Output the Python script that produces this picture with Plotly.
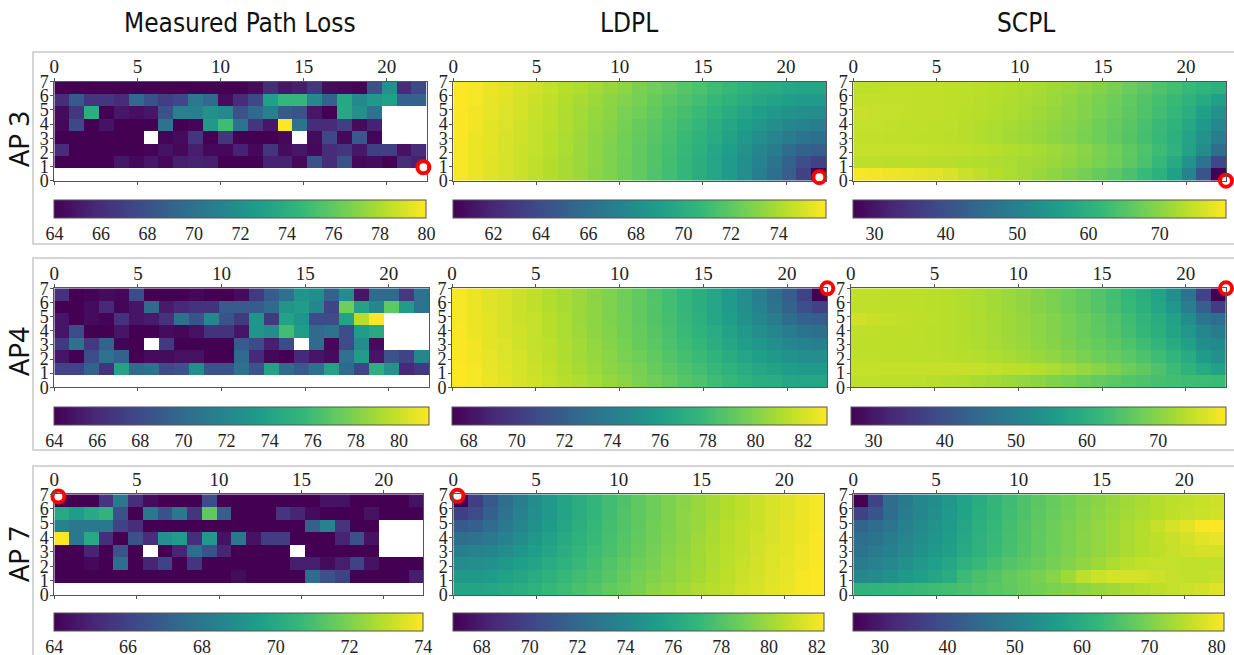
import plotly.graph_objects as go

N = None
W, H = 1234, 655

# ---------------------------------------------------------------------------
# Path-loss grids (dB), 8 rows x 25 columns, rows listed from y=0 (bottom) up
# ---------------------------------------------------------------------------
meas_ap3 = [
    [N] * 25,
    [64, 64, 64, 64, 65, 64.3, 65, 64.3, 65.3, 65.5, 65.3, 64, 64, 64, 65.5, 65.5, 64.3, 68, 66, 68, 64.3, 64.5, 64, 66, 65.5],
    [66, 64, 64, 64, 64, 64, 64.2, 64.8, 64.3, 65.3, 64.3, 64.3, 65.5, 64.3, 66.5, 64.5, 65, 64.3, 66, 66.5, 65, 67, 67, 64.8, 66],
    [64, 64, 64, 64, 64, 64, N, 64.2, 64.5, 66.5, 64, 66.5, 64, 64, 64, 64.3, N, 64.5, 67.5, 64.3, 68.5, 64.2, N, N, N],
    [64.3, 67.5, 64, 64.8, 64, 64, 64, 70, 64, 64.2, 72.5, 75, 70, 66.5, 65, 80, 70, 66, 66, 67, 64.5, 65.5, N, N, N],
    [64.5, 66.5, 74, 64, 65, 64.7, 65, 68, 71, 71, 72, 71.5, 68, 69.5, 71, 68.5, 68, 65, 64, 73.5, 72, 70, N, N, N],
    [66, 68.5, 66.5, 66.5, 66, 69.5, 68, 67, 67.5, 70.5, 69.5, 64.5, 66, 67.5, 73, 74.5, 74.5, 71.5, 69, 73.5, 71.5, 72.5, 73, 69, 69],
    [64, 64, 64, 64, 64, 64, 64, 64, 64, 64, 64, 64, 64, 64.5, 66, 65, 65.3, 66.5, 64.5, 64.3, 64.2, 68, 72, 66, 67.5],
]

ldpl_ap3 = [
    [75.8, 75.6, 75.3, 75.1, 74.8, 74.5, 74.2, 73.9, 73.6, 73.2, 72.9, 72.5, 72.1, 71.6, 71.2, 70.6, 70.1, 69.5, 68.8, 68.0, 67.1, 66.1, 64.9, 63.4, 60.3],
    [75.8, 75.6, 75.3, 75.1, 74.8, 74.5, 74.2, 73.9, 73.6, 73.3, 72.9, 72.5, 72.1, 71.7, 71.2, 70.7, 70.1, 69.5, 68.8, 68.1, 67.3, 66.3, 65.2, 64.1, 63.4],
    [75.8, 75.6, 75.4, 75.1, 74.8, 74.6, 74.3, 74.0, 73.6, 73.3, 72.9, 72.6, 72.1, 71.7, 71.3, 70.8, 70.2, 69.6, 69.0, 68.3, 67.6, 66.8, 65.9, 65.2, 64.9],
    [75.9, 75.6, 75.4, 75.1, 74.9, 74.6, 74.3, 74.0, 73.7, 73.3, 73.0, 72.6, 72.2, 71.8, 71.4, 70.9, 70.4, 69.9, 69.3, 68.7, 68.0, 67.4, 66.8, 66.3, 66.1],
    [75.9, 75.7, 75.4, 75.2, 74.9, 74.6, 74.4, 74.1, 73.8, 73.4, 73.1, 72.7, 72.3, 71.9, 71.5, 71.1, 70.6, 70.1, 69.6, 69.1, 68.5, 68.0, 67.6, 67.3, 67.1],
    [75.9, 75.7, 75.5, 75.2, 75.0, 74.7, 74.4, 74.1, 73.8, 73.5, 73.2, 72.8, 72.5, 72.1, 71.7, 71.3, 70.9, 70.4, 70.0, 69.5, 69.1, 68.7, 68.3, 68.1, 68.0],
    [76.0, 75.8, 75.5, 75.3, 75.0, 74.8, 74.5, 74.2, 73.9, 73.6, 73.3, 73.0, 72.7, 72.3, 71.9, 71.5, 71.2, 70.8, 70.4, 70.0, 69.6, 69.3, 69.0, 68.8, 68.8],
    [76.0, 75.8, 75.6, 75.4, 75.1, 74.9, 74.6, 74.3, 74.1, 73.8, 73.5, 73.2, 72.8, 72.5, 72.2, 71.8, 71.5, 71.1, 70.8, 70.4, 70.1, 69.9, 69.6, 69.5, 69.5],
]

scpl_ap3 = [
    [78.8, 78.6, 78.2, 77.8, 77.4, 77.0, 76.2, 75.2, 74.3, 73.5, 72.8, 72.0, 71.2, 70.3, 69.3, 68.2, 67.0, 65.7, 64.2, 62.3, 60.0, 56.5, 50.5, 40.5, 27.0],
    [74.0, 74.0, 73.9, 73.9, 73.8, 73.7, 73.6, 73.4, 73.2, 72.9, 72.6, 72.2, 71.8, 71.2, 70.5, 69.6, 68.6, 67.4, 66.0, 64.2, 61.8, 58.5, 53.5, 47.0, 38.5],
    [74.8, 74.8, 74.8, 74.7, 74.6, 74.5, 74.4, 74.3, 74.0, 73.6, 73.2, 72.8, 72.3, 71.6, 70.8, 69.9, 68.8, 67.6, 66.2, 64.6, 62.7, 60.5, 57.0, 52.5, 46.0],
    [74.5, 74.5, 74.4, 74.3, 74.2, 74.1, 73.9, 73.6, 73.1, 72.6, 72.1, 71.6, 71.0, 70.3, 69.5, 68.6, 67.6, 66.5, 65.2, 63.7, 62.0, 60.0, 57.3, 53.5, 49.5],
    [74.6, 74.6, 74.5, 74.4, 74.3, 74.2, 74.0, 73.7, 73.3, 72.8, 72.3, 71.8, 71.2, 70.5, 69.7, 68.8, 67.8, 66.7, 65.5, 64.0, 62.4, 60.6, 58.3, 55.0, 51.5],
    [75.0, 74.8, 74.6, 74.5, 74.4, 74.3, 74.1, 73.9, 73.6, 73.2, 72.8, 72.3, 71.7, 71.0, 70.2, 69.3, 68.3, 67.2, 66.0, 64.6, 63.1, 61.5, 59.5, 56.5, 53.5],
    [74.5, 74.5, 74.5, 74.5, 74.4, 74.3, 74.2, 74.0, 73.7, 73.4, 73.0, 72.5, 72.0, 71.3, 70.5, 69.6, 68.6, 67.5, 66.3, 65.0, 63.6, 62.2, 60.8, 58.5, 56.5],
    [74.0, 74.2, 74.3, 74.3, 74.3, 74.3, 74.2, 74.0, 73.8, 73.5, 73.2, 72.8, 72.3, 71.7, 71.0, 70.2, 69.3, 68.3, 67.2, 66.0, 64.7, 63.4, 62.2, 61.0, 60.0],
]

meas_ap4 = [
    [N] * 25,
    [67.5, 67.5, 69.5, 66.5, 74, 70, 70.5, 68, 68.5, 72.5, 68.5, 68.5, 70.5, 68.5, 74, 70, 69, 70.5, 74, 70, 67.5, 75, 73, 66, 67],
    [65, 64, 68, 70.5, 69.5, 64, 64.5, 64.5, 64.8, 64.8, 64, 64, 70, 66, 64.3, 64, 66, 65, 64.5, 70.5, 73.5, 65, 68.5, 67.5, 72],
    [67, 70.5, 67, 69.5, 64.2, 64, N, 67, 64, 64, 64, 64, 69, 68, 65.5, 68, N, 70, 64.3, 68, 72.5, 64.5, N, N, N],
    [65, 68, 64, 64, 65, 64, 64, 64.5, 64.3, 64.8, 66.5, 66.5, 65, 73, 72.5, 76, 73.5, 70, 70.5, 68, 73.5, 74.5, N, N, N],
    [65, 64, 64.5, 64.2, 66.5, 65, 65.3, 66.5, 70.5, 68.5, 72, 68.5, 67, 73, 67, 74, 73, 68, 68, 74, 79.5, 81.4, N, N, N],
    [64, 64, 64.5, 66, 64.2, 65, 70, 65.3, 66, 66.5, 66.5, 69, 69, 69, 70, 73, 73.5, 72, 67.5, 77.5, 74, 72, 77, 73.5, 70.5],
    [66.5, 64, 64.2, 64.5, 64.3, 68, 64, 64, 64, 64.3, 64, 64, 64.5, 67, 69, 70.5, 73, 72.5, 69.5, 72.5, 65, 70, 70, 67, 70.5],
]

ldpl_ap4 = [
    [83.0, 82.8, 82.6, 82.4, 82.1, 81.9, 81.6, 81.3, 81.1, 80.8, 80.5, 80.2, 79.8, 79.5, 79.2, 78.8, 78.5, 78.1, 77.8, 77.4, 77.1, 76.9, 76.6, 76.5, 76.5],
    [83.0, 82.8, 82.5, 82.3, 82.0, 81.8, 81.5, 81.2, 80.9, 80.6, 80.3, 80.0, 79.7, 79.3, 78.9, 78.5, 78.2, 77.8, 77.4, 77.0, 76.6, 76.3, 76.0, 75.8, 75.8],
    [82.9, 82.7, 82.5, 82.2, 82.0, 81.7, 81.4, 81.1, 80.8, 80.5, 80.2, 79.8, 79.5, 79.1, 78.7, 78.3, 77.9, 77.4, 77.0, 76.5, 76.1, 75.7, 75.3, 75.1, 75.0],
    [82.9, 82.7, 82.4, 82.2, 81.9, 81.6, 81.4, 81.1, 80.8, 80.4, 80.1, 79.7, 79.3, 78.9, 78.5, 78.1, 77.6, 77.1, 76.6, 76.1, 75.5, 75.0, 74.6, 74.3, 74.1],
    [82.9, 82.6, 82.4, 82.1, 81.9, 81.6, 81.3, 81.0, 80.7, 80.3, 80.0, 79.6, 79.2, 78.8, 78.4, 77.9, 77.4, 76.9, 76.3, 75.7, 75.0, 74.4, 73.8, 73.3, 73.1],
    [82.8, 82.6, 82.4, 82.1, 81.8, 81.6, 81.3, 81.0, 80.6, 80.3, 79.9, 79.6, 79.1, 78.7, 78.3, 77.8, 77.2, 76.6, 76.0, 75.3, 74.6, 73.8, 72.9, 72.2, 71.9],
    [82.8, 82.6, 82.3, 82.1, 81.8, 81.5, 81.2, 80.9, 80.6, 80.3, 79.9, 79.5, 79.1, 78.7, 78.2, 77.7, 77.1, 76.5, 75.8, 75.1, 74.3, 73.3, 72.2, 71.1, 70.4],
    [82.8, 82.6, 82.3, 82.1, 81.8, 81.5, 81.2, 80.9, 80.6, 80.2, 79.9, 79.5, 79.1, 78.6, 78.2, 77.6, 77.1, 76.5, 75.8, 75.0, 74.1, 73.1, 71.9, 70.4, 67.3],
]

scpl_ap4 = [
    [74.5, 74.5, 74.4, 74.3, 74.1, 73.9, 73.6, 73.2, 72.7, 72.1, 71.5, 70.8, 70.0, 69.2, 68.4, 67.6, 66.8, 66.0, 65.2, 64.5, 63.9, 63.4, 63.0, 62.8, 62.6],
    [74.8, 74.8, 74.8, 74.8, 74.9, 75.0, 75.0, 75.0, 74.9, 74.7, 74.4, 74.0, 73.5, 72.8, 72.0, 71.0, 70.0, 68.9, 67.6, 66.2, 64.6, 62.8, 60.8, 58.6, 56.8],
    [74.5, 74.5, 74.4, 74.3, 74.2, 74.1, 74.0, 73.8, 73.5, 73.1, 72.6, 72.0, 71.3, 70.6, 69.8, 68.9, 67.9, 66.9, 65.7, 64.4, 63.0, 61.3, 59.0, 55.5, 53.2],
    [74.4, 74.4, 74.3, 74.2, 74.1, 74.0, 73.8, 73.5, 73.1, 72.6, 72.0, 71.3, 70.6, 69.8, 68.9, 67.9, 66.9, 65.8, 64.5, 63.0, 61.2, 59.0, 56.5, 52.5, 51.6],
    [74.5, 74.5, 74.4, 74.3, 74.2, 74.0, 73.8, 73.4, 73.0, 72.4, 71.8, 71.1, 70.3, 69.4, 68.4, 67.4, 66.3, 65.0, 63.5, 61.8, 59.8, 57.5, 54.5, 51.0, 48.9],
    [75.8, 75.2, 74.8, 74.5, 74.3, 74.1, 73.8, 73.4, 73.0, 72.4, 71.8, 71.1, 70.3, 69.4, 68.4, 67.3, 66.1, 64.7, 63.1, 61.3, 59.2, 56.8, 52.5, 47.5, 45.8],
    [74.5, 74.5, 74.4, 74.3, 74.2, 74.0, 73.7, 73.3, 72.8, 72.2, 71.5, 70.7, 69.8, 68.8, 67.8, 66.6, 65.3, 63.8, 62.1, 60.2, 57.8, 54.5, 49.0, 42.6, 36.3],
    [74.5, 74.5, 74.4, 74.3, 74.2, 74.0, 73.7, 73.3, 72.8, 72.2, 71.5, 70.7, 69.8, 68.8, 67.7, 66.4, 65.0, 63.4, 61.6, 59.5, 57.0, 53.0, 47.0, 37.3, 26.8],
]

meas_ap7 = [
    [N] * 25,
    [64, 64, 64, 64, 64, 64, 64, 64, 64, 64, 64, 64, 64.3, 64, 64, 64, 64, 67.5, 66.5, 66, 64, 64, 64, 64, 64.8],
    [64, 64, 64.2, 64, 67.5, 64, 65, 66, 64, 65.5, 64, 64, 64, 64, 64, 64, 64.8, 64.8, 64.3, 64.8, 66, 64.5, 64, 64, 64],
    [64, 64, 65, 64, 66.5, 64, N, 64, 65, 67.5, 66.5, 65, 64, 64, 64, 64, N, 64, 64, 64, 64, 64, N, N, N],
    [74, 68, 70, 65.3, 64, 66.5, 65.3, 69, 69.5, 65.3, 69.3, 64.5, 68, 64.5, 65.8, 65.8, 64, 64, 64, 65, 66.5, 64.5, N, N, N],
    [68.5, 68, 68, 68, 66, 65.3, 64, 64, 64, 64, 64, 64, 64, 64, 64, 64, 64, 67, 68.5, 65.5, 64, 64, N, N, N],
    [70, 69.5, 70, 70.5, 66.5, 64, 68, 66.5, 68, 65.5, 71.5, 67, 64, 64, 64, 65.5, 65, 64.3, 64, 64, 64, 64.5, 64, 64, 64],
    [64, 64, 64, 65.5, 68, 65.3, 64.3, 64, 64, 64, 66.3, 64, 64, 64, 64, 64, 64, 64, 64.5, 64.5, 64, 64, 64, 64, 64.5],
]

ldpl_ap7 = [
    [75.8, 75.8, 75.9, 76.2, 76.4, 76.7, 77.1, 77.4, 77.8, 78.1, 78.5, 78.8, 79.1, 79.5, 79.8, 80.1, 80.4, 80.6, 80.9, 81.2, 81.4, 81.7, 81.9, 82.1, 82.3],
    [75.1, 75.1, 75.3, 75.6, 75.9, 76.3, 76.7, 77.1, 77.5, 77.8, 78.2, 78.6, 79.0, 79.3, 79.6, 79.9, 80.2, 80.5, 80.8, 81.1, 81.3, 81.6, 81.8, 82.1, 82.3],
    [74.3, 74.4, 74.6, 75.0, 75.4, 75.8, 76.3, 76.7, 77.2, 77.6, 78.0, 78.4, 78.8, 79.1, 79.5, 79.8, 80.1, 80.4, 80.7, 81.0, 81.3, 81.5, 81.8, 82.0, 82.2],
    [73.4, 73.6, 73.9, 74.3, 74.8, 75.4, 75.9, 76.4, 76.9, 77.4, 77.8, 78.2, 78.6, 79.0, 79.4, 79.7, 80.1, 80.4, 80.7, 80.9, 81.2, 81.5, 81.7, 82.0, 82.2],
    [72.4, 72.6, 73.1, 73.7, 74.3, 75.0, 75.6, 76.2, 76.7, 77.2, 77.7, 78.1, 78.5, 78.9, 79.3, 79.6, 80.0, 80.3, 80.6, 80.9, 81.2, 81.4, 81.7, 81.9, 82.2],
    [71.2, 71.5, 72.2, 73.1, 73.9, 74.6, 75.3, 75.9, 76.5, 77.1, 77.6, 78.0, 78.4, 78.9, 79.2, 79.6, 79.9, 80.3, 80.6, 80.9, 81.1, 81.4, 81.7, 81.9, 82.1],
    [69.7, 70.4, 71.5, 72.6, 73.6, 74.4, 75.1, 75.8, 76.4, 77.0, 77.5, 78.0, 78.4, 78.8, 79.2, 79.6, 79.9, 80.2, 80.5, 80.8, 81.1, 81.4, 81.6, 81.9, 82.1],
    [66.8, 69.7, 71.2, 72.4, 73.4, 74.3, 75.1, 75.8, 76.4, 76.9, 77.5, 77.9, 78.4, 78.8, 79.2, 79.5, 79.9, 80.2, 80.5, 80.8, 81.1, 81.4, 81.6, 81.9, 82.1],
]

scpl_ap7 = [
    [61.5, 61.8, 62.3, 62.8, 63.3, 63.8, 64.4, 65.1, 65.9, 66.7, 67.5, 68.3, 69.1, 69.9, 70.7, 71.5, 72.3, 73.1, 73.9, 74.7, 75.5, 76.2, 76.9, 77.5, 78.5],
    [51.3, 52.3, 53.8, 55.3, 56.9, 58.4, 60.0, 63.5, 65.0, 66.3, 67.5, 68.6, 69.7, 71.0, 73.0, 75.5, 77.0, 77.6, 77.8, 77.5, 77.0, 76.3, 76.0, 76.0, 76.5],
    [49.0, 50.2, 51.8, 53.5, 55.2, 56.8, 58.6, 61.0, 63.0, 64.5, 65.8, 67.0, 68.2, 69.4, 70.6, 71.8, 73.0, 74.3, 75.3, 76.0, 76.3, 76.2, 76.0, 76.0, 76.0],
    [47.0, 48.3, 50.0, 51.8, 53.7, 55.3, 57.2, 59.5, 61.5, 63.3, 64.8, 66.2, 67.5, 68.8, 70.0, 71.1, 72.1, 73.1, 74.0, 74.9, 75.7, 76.4, 77.0, 77.5, 77.8],
    [45.8, 47.3, 49.0, 51.0, 53.0, 54.6, 56.5, 58.8, 61.0, 63.0, 64.6, 66.0, 67.4, 68.7, 69.9, 71.0, 72.0, 73.0, 73.9, 74.8, 75.7, 76.6, 77.5, 78.7, 79.3],
    [43.6, 45.5, 47.5, 50.0, 52.3, 54.0, 56.0, 58.3, 60.7, 62.7, 64.4, 65.9, 67.3, 68.6, 69.8, 70.9, 72.0, 73.0, 74.0, 75.0, 76.3, 77.6, 79.0, 80.6, 81.1],
    [37.0, 40.5, 45.5, 49.0, 51.5, 53.3, 55.3, 57.8, 60.3, 62.3, 64.0, 65.5, 66.9, 68.2, 69.4, 70.5, 71.5, 72.5, 73.4, 74.2, 75.0, 75.7, 76.3, 76.8, 77.2],
    [26.0, 37.0, 45.3, 48.5, 51.3, 53.0, 55.0, 57.5, 60.0, 62.0, 63.8, 65.3, 66.7, 68.0, 69.2, 70.3, 71.3, 72.3, 73.2, 74.0, 74.8, 75.5, 76.0, 76.5, 77.0],
]

# colour limits and colour-bar ticks for each panel
z_limits = [
    (64.0, 80.0), (60.3, 76.0), (27.0, 79.3),
    (64.0, 81.4), (67.3, 83.0), (26.8, 79.5),
    (64.0, 74.0), (66.8, 82.3), (26.0, 81.1),
]
cbar_ticks = [
    [64, 66, 68, 70, 72, 74, 76, 78, 80], [62, 64, 66, 68, 70, 72, 74], [30, 40, 50, 60, 70],
    [64, 66, 68, 70, 72, 74, 76, 78, 80], [68, 70, 72, 74, 76, 78, 80, 82], [30, 40, 50, 60, 70],
    [64, 66, 68, 70, 72, 74], [68, 70, 72, 74, 76, 78, 80, 82], [30, 40, 50, 60, 70, 80],
]

# access-point location drawn on each panel
ap_x = [22.2, 22.0, 22.4, 22.3, 22.4, 22.4, 0.25, 0.25, 0.2]
ap_y = [0.95, 0.25, 0.0, 7.2, 7.0, 7.0, 6.85, 6.9, 7.1]

col_titles = ["Measured Path Loss", "LDPL", "SCPL"]
row_labels = ["AP 3", "AP4", "AP 7"]

grids = [meas_ap3, ldpl_ap3, scpl_ap3,
         meas_ap4, ldpl_ap4, scpl_ap4,
         meas_ap7, ldpl_ap7, scpl_ap7]

# ---------------------------------------------------------------------------
# Layout geometry in pixels
# ---------------------------------------------------------------------------
row_px = [  # (heatmap top, heatmap bottom, colour-bar top)
    (81.7, 180.7, 200.0),
    (288.3, 387.3, 406.5),
    (494.3, 595.0, 613.0),
]
col_px = [  # per row: (left, right) of each column's heatmap
    [(54.3, 426.7), (453.3, 826.0), (853.3, 1226.0)],
    [(54.3, 429.0), (452.0, 827.3), (850.7, 1226.0)],
    [(54.3, 423.3), (453.3, 824.0), (853.3, 1224.0)],
]
box_px = [(52, 244), (258, 450), (466, 662)]


def px_x(v):
    return v / W


def px_y(v):
    return 1 - v / H


TICK_FONT = dict(family="Liberation Serif, DejaVu Serif, serif", size=19, color="#222")
FRAME = "#555555"

fig = go.Figure()
layout = {}

for i, z in enumerate(grids):
    r, c = divmod(i, 3)
    top, bot, cb_top = row_px[r]
    left, right = col_px[r][c]
    sfx = "" if i == 0 else str(i + 1)
    zmin, zmax = z_limits[i]

    fig.add_trace(go.Heatmap(
        z=z, x0=0.448, dx=0.896, y0=0.4375, dy=0.875,
        colorscale="Viridis", zmin=zmin, zmax=zmax,
        xaxis="x" + sfx, yaxis="y" + sfx,
        hoverongaps=False, hoverinfo="skip",
        colorbar=dict(
            orientation="h",
            x=px_x((left + right) / 2), xanchor="center",
            y=px_y(cb_top), yanchor="top",
            lenmode="pixels", len=right - left,
            thicknessmode="pixels", thickness=18,
            xpad=0, ypad=0,
            outlinewidth=1, outlinecolor=FRAME,
            tickvals=cbar_ticks[i], ticks="outside", ticklen=0,
            tickfont=dict(TICK_FONT, size=18),
        ),
    ))
    fig.add_trace(go.Scatter(
        x=[ap_x[i]], y=[ap_y[i]], mode="markers",
        xaxis="x" + sfx, yaxis="y" + sfx,
        marker=dict(size=12, color="white", line=dict(color="#ff0000", width=4)),
        cliponaxis=False, showlegend=False, hoverinfo="skip",
    ))

    layout["xaxis" + sfx] = dict(
        domain=[px_x(left), px_x(right)], anchor="y" + sfx,
        range=[0, 22.4], side="top", automargin=False,
        tickvals=[0, 5, 10, 15, 20], ticks="outside", ticklen=3,
        ticklabelstandoff=-3,
        tickcolor=FRAME, mirror="ticks", showline=True, linecolor=FRAME,
        linewidth=1, showgrid=False, zeroline=False, tickfont=TICK_FONT,
    )
    layout["yaxis" + sfx] = dict(
        domain=[px_y(bot), px_y(top)], anchor="x" + sfx,
        range=[0, 7], tickvals=list(range(8)), ticks="outside", ticklen=3,
        automargin=False, ticklabelstandoff=-2,
        tickcolor=FRAME, mirror=True, showline=True, linecolor=FRAME,
        linewidth=1, showgrid=False, zeroline=False,
        tickfont=dict(TICK_FONT, size=18),
    )

shapes = [
    dict(type="rect", xref="paper", yref="paper",
         x0=px_x(33), x1=1.02, y0=px_y(b), y1=px_y(t),
         line=dict(color="#c8c8c8", width=1.5), layer="below")
    for t, b in box_px
]

annotations = []
title_x = [240, 629, 1026]
for name, cx in zip(col_titles, title_x):
    annotations.append(dict(
        text=name, x=px_x(cx), y=px_y(23), xref="paper", yref="paper",
        xanchor="center", yanchor="middle", showarrow=False,
        font=dict(family="Liberation Sans Narrow, DejaVu Sans Condensed, Arial Narrow, sans-serif",
                  size=26, color="#111"),
    ))
label_y = [139, 352, 554]
for name, cy in zip(row_labels, label_y):
    annotations.append(dict(
        text=name, x=px_x(18), y=px_y(cy), xref="paper", yref="paper",
        xanchor="center", yanchor="middle", showarrow=False, textangle=-90,
        font=dict(family="Noto Sans, DejaVu Sans, sans-serif", size=27, color="#111"),
    ))

fig.update_layout(
    width=W, height=H,
    margin=dict(l=0, r=0, t=0, b=0, autoexpand=False),
    paper_bgcolor="white", plot_bgcolor="white",
    showlegend=False,
    shapes=shapes, annotations=annotations,
    **layout,
)

fig.write_html("out.html")
